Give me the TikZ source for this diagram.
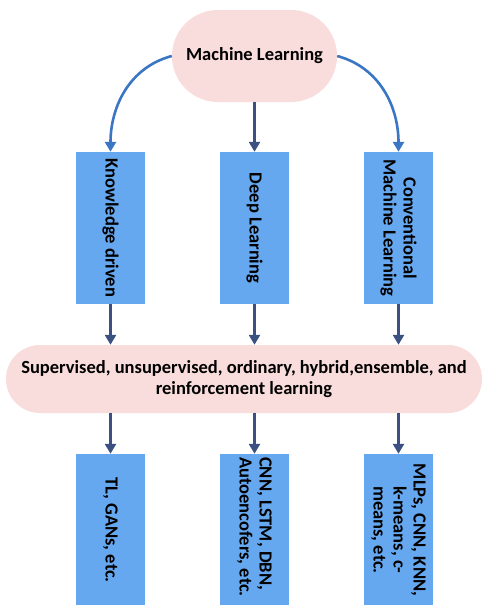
\documentclass[tikz,border=0pt]{standalone}
\usepackage{fontspec}
\setmainfont{Carlito}
\usetikzlibrary{arrows.meta}
\definecolor{pinkfill}{HTML}{F9DCDC}
\definecolor{boxfill}{HTML}{66A8F0}
\definecolor{curvearrow}{HTML}{3A76C4}
\definecolor{navyarrow}{HTML}{3C5082}
\tikzset{
  x=1pt,y=1pt,
  pill/.style={fill=pinkfill,draw=none,inner sep=0pt},
  bluebox/.style={fill=boxfill,draw=none,minimum width=69pt,minimum height=152pt,inner sep=0pt},
  vtext/.style={rotate=-90,font=\fontsize{18.5}{20}\selectfont\bfseries,align=center,inner sep=0pt,text=black},
  htext/.style={font=\fontsize{18.5}{21}\selectfont\bfseries,align=center,inner sep=0pt,text=black},
  carrow/.style={draw=curvearrow,line width=2.6pt,-{Triangle[width=11pt,length=10pt]}},
  sarrow/.style={draw=navyarrow,line width=2.4pt,-{Triangle[width=11pt,length=10pt]}}
}
\begin{document}
\begin{tikzpicture}
\useasboundingbox[fill=white] (0,0) rectangle (484,-605);
% top node
\node[pill,rounded corners=46pt,minimum width=165pt,minimum height=92pt] (ml) at (254.5,-56) {};
\node[htext] (mlt) at (ml.center) {Machine Learning};
% first row boxes
\node[bluebox] (k1) at (110.5,-228) {};
\node[bluebox] (d1) at (254.5,-228) {};
\node[bluebox] (c1) at (398.5,-228) {};
\node[vtext] (k1t) at (k1.center) {Knowledge driven};
\node[vtext] (d1t) at (d1.center) {Deep Learning};
\node[vtext] (c1t) at (c1.center) {Conventional\\Machine Learning};
% middle pill
\node[pill,rounded corners=34pt,minimum width=476pt,minimum height=68pt] (mid) at (244,-379) {};
\node[htext] (midt) at (mid.center) {Supervised, unsupervised, ordinary, hybrid,ensemble, and\\reinforcement learning};
% bottom boxes
\node[bluebox] (k2) at (110.5,-530) {};
\node[bluebox] (d2) at (254.5,-530) {};
\node[bluebox] (c2) at (398.5,-530) {};
\node[vtext] (k2t) at (k2.center) {TL, GANs, etc.};
\node[vtext,anchor=west,align=left] (d2t) at (254.5,-457) {CNN, LSTM, DBN,\\Autoencofers, etc.};
\node[vtext] (c2t) at (c2.center) {MLPs, CNN, KNN,\\k-means, c-\\means, etc.};
% arrows
\draw[carrow] (ml.west) to[out=195,in=90] (k1.north);
\draw[sarrow] (ml.south) -- (d1.north);
\draw[carrow] (ml.east) to[out=-15,in=90] (c1.north);
\draw[sarrow] (k1.south) -- (k1.south |- mid.north);
\draw[sarrow] (d1.south) -- (d1.south |- mid.north);
\draw[sarrow] (c1.south) -- (c1.south |- mid.north);
\draw[sarrow] (k2.north |- mid.south) -- (k2.north);
\draw[sarrow] (d2.north |- mid.south) -- (d2.north);
\draw[sarrow] (c2.north |- mid.south) -- (c2.north);
\end{tikzpicture}
\end{document}
